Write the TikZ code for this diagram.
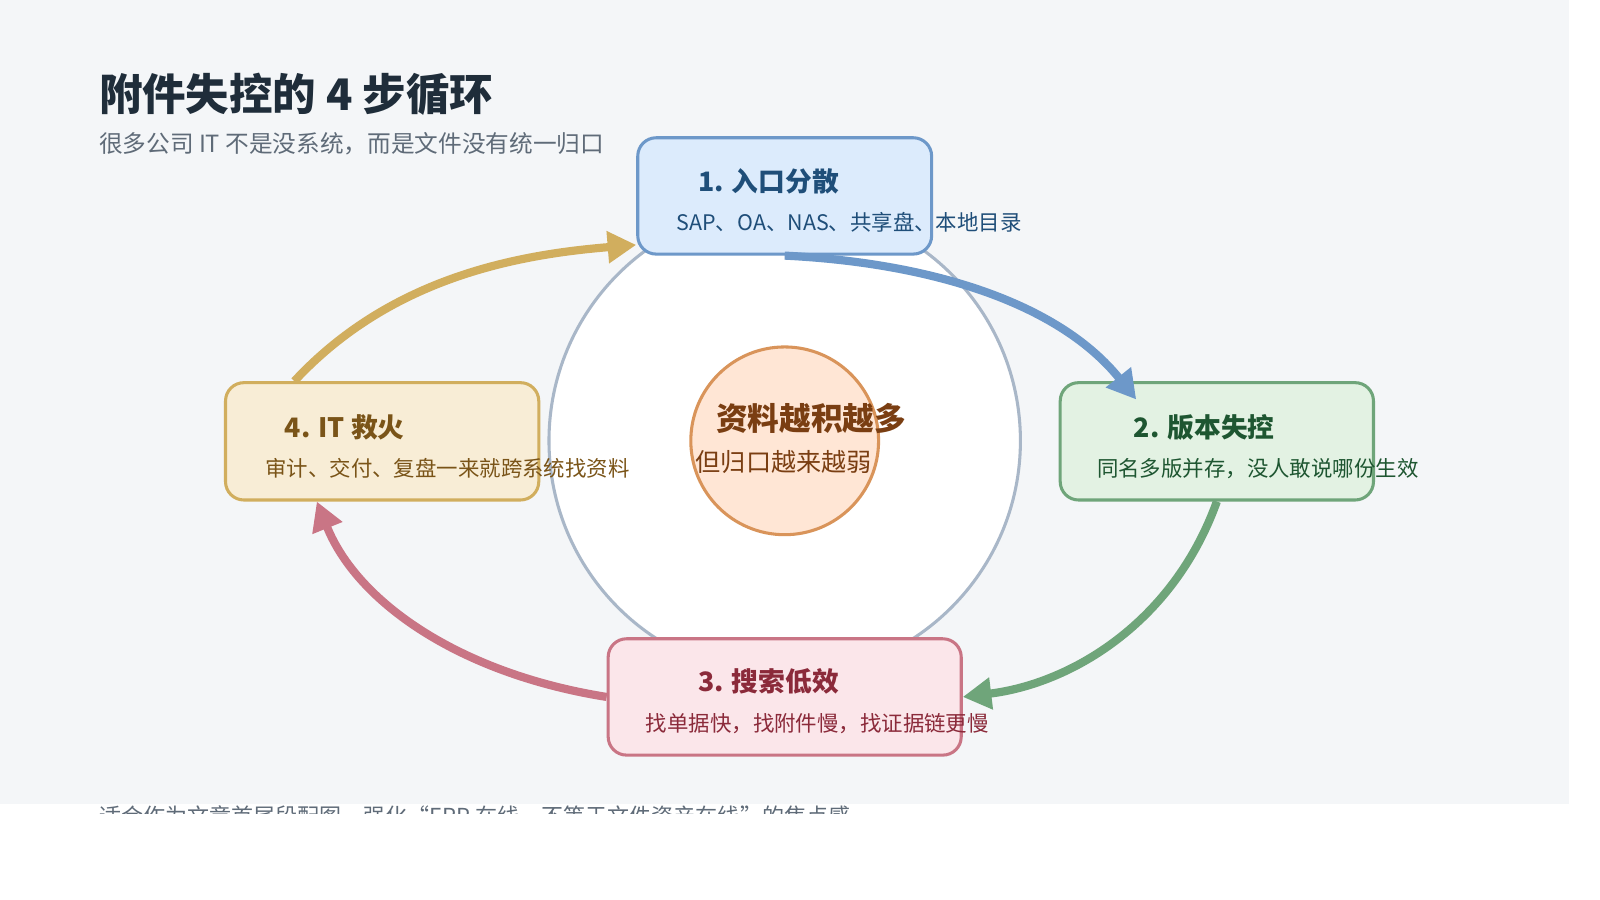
\documentclass[tikz,border=0pt]{standalone}
\usepackage{fontspec}
\setmainfont{Noto Sans CJK SC}
\usetikzlibrary{arrows.meta}
\definecolor{bgGray}{HTML}{F4F6F8}
\definecolor{ringGray}{HTML}{A9B7C8}
\definecolor{blueFill}{HTML}{DCEBFC}\definecolor{blueLine}{HTML}{6D98C9}\definecolor{blueText}{HTML}{1F4E79}
\definecolor{greenFill}{HTML}{E3F2E3}\definecolor{greenLine}{HTML}{6FA57A}\definecolor{greenText}{HTML}{1E5631}
\definecolor{redFill}{HTML}{FBE6EA}\definecolor{redLine}{HTML}{C97585}\definecolor{redText}{HTML}{8B2A3A}
\definecolor{goldFill}{HTML}{F8EDD6}\definecolor{goldLine}{HTML}{D1AE5E}\definecolor{goldText}{HTML}{7A5418}
\definecolor{coreFill}{HTML}{FFE6D5}\definecolor{coreLine}{HTML}{D9945A}\definecolor{coreText}{HTML}{7A3E12}
\definecolor{titleText}{HTML}{1F2D3A}\definecolor{subText}{HTML}{5F6B78}
\tikzset{
  step/.style={draw=#1Line, fill=#1Fill, line width=1.5pt, rounded corners=9pt},
  head/.style={anchor=west, font=\fontsize{13.1}{15}\selectfont\bfseries, text=#1Text},
  desc/.style={anchor=west, font=\fontsize{10.5}{13}\selectfont, text=#1Text},
  flow/.style={draw=#1, line width=4pt, -{Triangle[length=14pt,width=15pt]}},
}
\begin{document}
\begin{tikzpicture}[x=0.5pt,y=-0.5pt]
        \useasboundingbox (0,0) rectangle (1568,882);
        \fill[bgGray] (0,0) rectangle (1538,788);

        % title
        \node[anchor=west, font=\fontsize{21.3}{24}\selectfont\bfseries, text=titleText] (title) at (90,92) {附件失控的 4 步循环};
        \node[anchor=west, font=\fontsize{11.6}{14}\selectfont, text=subText] (subtitle) at (90,141) {很多公司 IT 不是没系统，而是文件没有统一归口};

        % ring and core
        \draw[ringGray, line width=1.5pt, fill=white] (769,432) circle (231);
        \node[circle, draw=coreLine, fill=coreFill, line width=1.5pt, minimum size=92pt] (core) at (769,432) {};
        \node[font=\fontsize{15.5}{18}\selectfont\bfseries, text=coreText] (coreA) at (795,410) {资料越积越多};
        \node[font=\fontsize{12.3}{14}\selectfont, text=coreText] (coreB) at (768,453) {但归口越来越弱};

        % steps
        \node[step=blue, minimum width=144pt, minimum height=57pt] (s1) at (769,192) {};
        \node[step=green, minimum width=153.5pt, minimum height=57.5pt] (s2) at (1192.5,432.5) {};
        \node[step=red, minimum width=173pt, minimum height=57pt] (s3) at (769,683) {};
        \node[step=gold, minimum width=153.5pt, minimum height=57.5pt] (s4) at (374.5,432.5) {};

        \node[head=blue] (t1) at (677,178) {1. 入口分散};
        \node[desc=blue] (d1) at (656,218) {SAP、OA、NAS、共享盘、本地目录};
        \node[head=green] (t2) at (1104,419) {2. 版本失控};
        \node[desc=green] (d2) at (1068,459) {同名多版并存，没人敢说哪份生效};
        \node[head=red] (t3) at (677,668) {3. 搜索低效};
        \node[desc=red] (d3) at (626,709) {找单据快，找附件慢，找证据链更慢};
        \node[head=gold] (t4) at (272,419) {4. IT 救火};
        \node[desc=gold] (d4) at (253,459) {审计、交付、复盘一来就跨系统找资料};

        % cycle arrows
        \draw[flow=blueLine] (s1.south) .. controls (920,258) and (1040,300) .. ([xshift=-39.5pt,yshift=-9pt]s2.north);
        \draw[flow=greenLine] (s2.south) .. controls (1150,610) and (1050,670) .. (s3.east);
        \draw[flow=redLine] (s3.west) .. controls (450,660) and (350,590) .. ([xshift=-32pt]s4.south);
        \draw[flow=goldLine] ([xshift=-43pt]s4.north) .. controls (380,275) and (500,250) .. ([yshift=-24pt]s1.west);

        % footer, cut off at the page edge
        \begin{scope}
          \clip (0,770) rectangle (1568,797);
          \node[anchor=west, font=\fontsize{10.8}{13}\selectfont, text=subText] (note) at (90,800) {适合作为文章首尾段配图，强化“ERP 在线，不等于文件资产在线”的焦点感};
        \end{scope}
\end{tikzpicture}
\end{document}
